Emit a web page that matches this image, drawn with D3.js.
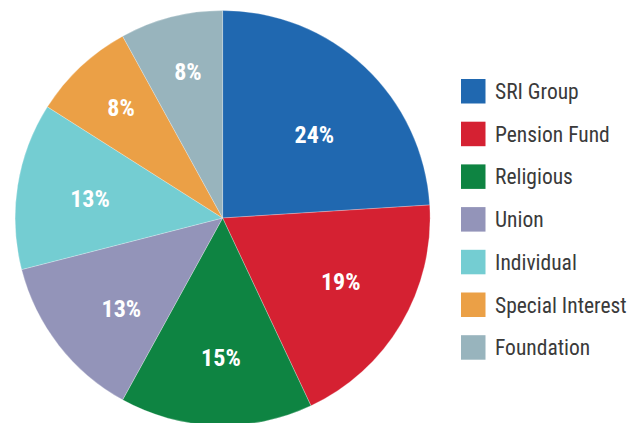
<!DOCTYPE html>
<html><head><meta charset="utf-8">
<script src="https://cdn.jsdelivr.net/npm/d3@7"></script>
<style>html,body{margin:0;padding:0;background:#fff;}</style>
</head><body>
<svg id="chart" width="636" height="423"></svg>
<script>
const categories = ["SRI Group","Pension Fund","Religious","Union","Individual","Special Interest","Foundation"];
const values = [24,19,15,13,13,8,8];
const colors = ["#2068b0","#d52132","#0e8442","#9394b9","#74cdd2","#eba046","#98b4bd"];
// label placement (layout only): distance from centre and angular nudge in degrees
const labelRadius = [124,134,139,136,134,150,151];
const labelNudge = [4.5,-2.4,-1.1,-4.1,-0.7,0.6,1.1];
const font = "'Roboto Condensed','Liberation Sans Narrow',sans-serif";

const svg = d3.select("#chart");
const cx = 222.6, cy = 218, r = 207.5;
const data = categories.map((c,i)=>({cat:c, value:values[i], color:colors[i]}));
const pie = d3.pie().value(d=>d.value).sort(null);
const arcs = pie(data);
const arc = d3.arc().innerRadius(0).outerRadius(r);

const g = svg.append("g").attr("transform",`translate(${cx},${cy})`);
g.selectAll("path").data(arcs).join("path")
  .attr("d",arc).attr("fill",d=>d.data.color)
  .attr("stroke","#fff").attr("stroke-width",0.5).attr("stroke-opacity",0.5);
g.selectAll("text").data(arcs).join("text")
  .attr("transform",(d,i)=>{
    const a = (d.startAngle+d.endAngle)/2 + labelNudge[i]*Math.PI/180;
    const rr = labelRadius[i];
    return `translate(${rr*Math.sin(a)},${-rr*Math.cos(a)})`;
  })
  .attr("text-anchor","middle").attr("dy","0.36em")
  .attr("fill","#fff").attr("font-family",font)
  .attr("font-weight","bold").attr("font-size",24)
  .text(d=>d.data.value+"%");

const legend = svg.append("g").attr("transform","translate(461,79)");
const row = legend.selectAll("g").data(data).join("g")
  .attr("transform",(d,i)=>`translate(0,${i*42.7})`);
row.append("rect").attr("width",24.5).attr("height",24.5).attr("fill",d=>d.color);
row.append("text").attr("x",34).attr("y",12.3).attr("dy","0.36em")
  .attr("font-family",font).attr("font-size",21.5).attr("fill","#3a3a3a")
  .text(d=>d.cat);
</script>
</body></html>
